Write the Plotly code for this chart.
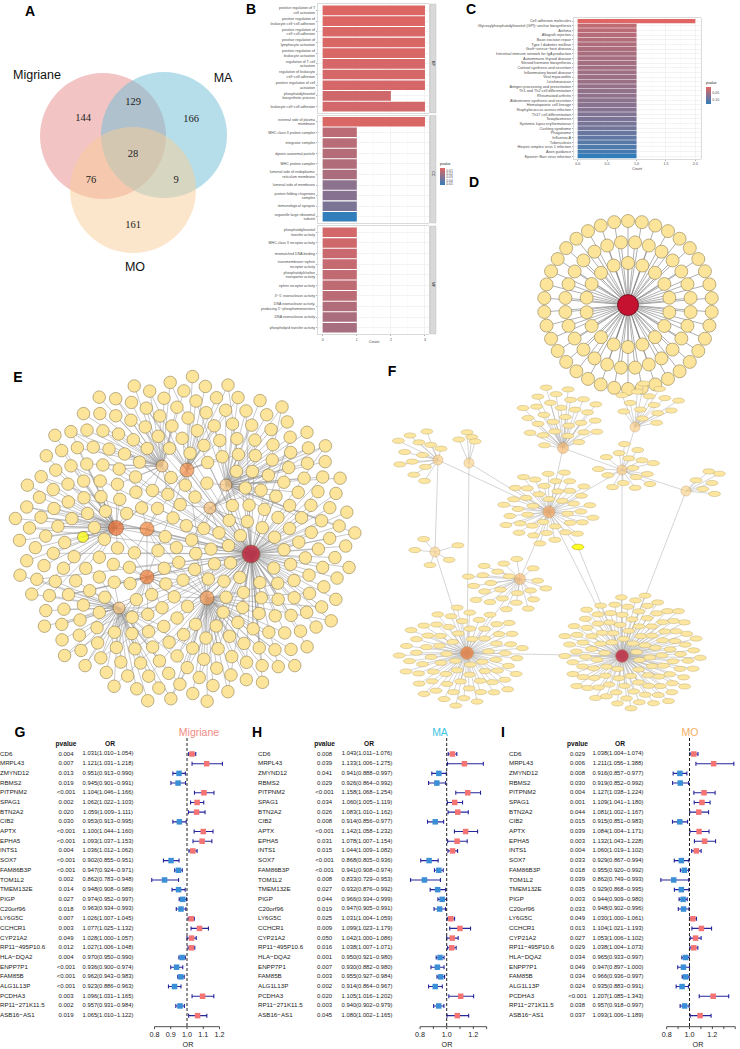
import math

import plotly.graph_objects as go

W, H = 740, 1049
FONT = "Liberation Sans, Arial, sans-serif"
SERIF = "Liberation Serif, Times New Roman, serif"

# ---------------------------------------------------------------------------
# data
# ---------------------------------------------------------------------------

# A  Venn
venn_sets = ["Migriane", "MA", "MO"]
venn_counts = [144, 129, 166, 28, 76, 9, 161]  # M, M&MA, MA, all, M&MO, MA&MO, MO

# B  GO enrichment (BP / CC / MF)
bp_terms = [
    "positive regulation of T<br>cell activation",
    "positive regulation of<br>leukocyte cell−cell adhesion",
    "positive regulation of<br>cell−cell adhesion",
    "positive regulation of<br>lymphocyte activation",
    "positive regulation of<br>leukocyte activation",
    "regulation of T cell<br>activation",
    "regulation of leukocyte<br>cell−cell adhesion",
    "positive regulation of cell<br>activation",
    "phosphatidylinositol<br>biosynthetic process",
    "leukocyte cell−cell adhesion",
]
bp_counts = [3, 3, 3, 3, 3, 3, 3, 3, 2, 3]
bp_p = [0.003, 0.003, 0.004, 0.004, 0.004, 0.005, 0.005, 0.005, 0.007, 0.006]

cc_terms = [
    "external side of plasma<br>membrane",
    "MHC class II protein complex",
    "integrator complex",
    "dynein axonemal particle",
    "MHC protein complex",
    "lumenal side of endoplasmic<br>reticulum membrane",
    "lumenal side of membrane",
    "protein folding chaperone<br>complex",
    "immunological synapse",
    "organelle large ribosomal<br>subunit",
]
cc_counts = [3, 1, 1, 1, 1, 1, 1, 1, 1, 1]
cc_p = [0.004, 0.013, 0.014, 0.015, 0.016, 0.018, 0.027, 0.029, 0.032, 0.054]

mf_terms = [
    "phosphatidylinositol<br>transfer activity",
    "MHC class II receptor activity",
    "mismatched DNA binding",
    "transmembrane−ephrin<br>receptor activity",
    "phosphatidylcholine<br>transporter activity",
    "ephrin receptor activity",
    "3'−5' exonuclease activity",
    "DNA exonuclease activity,<br>producing 5'−phosphomonoesters",
    "DNA exonuclease activity",
    "phospholipid transfer activity",
]
mf_counts = [1, 1, 1, 1, 1, 1, 1, 1, 1, 1]
mf_p = [0.006, 0.007, 0.009, 0.010, 0.011, 0.012, 0.013, 0.016, 0.018, 0.019]

# C  KEGG enrichment
kegg_terms = [
    "Cell adhesion molecules",
    "Glycosylphosphatidylinositol (GPI)−anchor biosynthesis",
    "Asthma",
    "Allograft rejection",
    "Base excision repair",
    "Type I diabetes mellitus",
    "Graft−versus−host disease",
    "Intestinal immune network for IgA production",
    "Autoimmune thyroid disease",
    "Steroid hormone biosynthesis",
    "Cortisol synthesis and secretion",
    "Inflammatory bowel disease",
    "Viral myocarditis",
    "Leishmaniasis",
    "Antigen processing and presentation",
    "Th1 and Th2 cell differentiation",
    "Rheumatoid arthritis",
    "Aldosterone synthesis and secretion",
    "Hematopoietic cell lineage",
    "Staphylococcus aureus infection",
    "Th17 cell differentiation",
    "Toxoplasmosis",
    "Systemic lupus erythematosus",
    "Cushing syndrome",
    "Phagosome",
    "Influenza A",
    "Tuberculosis",
    "Herpes simplex virus 1 infection",
    "Axon guidance",
    "Epstein−Barr virus infection",
]
kegg_counts = [2, 1, 1, 1, 1, 1, 1, 1, 1, 1, 1, 1, 1, 1, 1,
               1, 1, 1, 1, 1, 1, 1, 1, 1, 1, 1, 1, 1, 1, 1]
kegg_p = [0.013, 0.036, 0.039, 0.042, 0.044, 0.046, 0.048, 0.050, 0.052, 0.054,
          0.055, 0.057, 0.059, 0.061, 0.063, 0.066, 0.068, 0.070, 0.072, 0.075,
          0.078, 0.081, 0.084, 0.088, 0.095, 0.100, 0.106, 0.112, 0.118, 0.131]

# G/H/I  forest plots
genes = ["CD6", "MRPL43", "ZMYND12", "RBMS2", "PITPNM2", "SPAG1", "BTN2A2", "CIB2",
         "APTX", "EPHA5", "INTS1", "SOX7", "FAM86B3P", "TOM1L2", "TMEM132E", "PIGP",
         "C20orf96", "LY6G5C", "CCHCR1", "CYP21A2", "RP11−495P10.6", "HLA−DQA2",
         "ENPP7P1", "FAM85B", "ALG1L13P", "PCDHA3", "RP11−271K11.5", "ASB16−AS1"]

mig_p = ["0.004", "0.007", "0.013", "0.019", "<0.001", "0.002", "0.020", "0.030",
         "<0.001", "<0.001", "0.004", "<0.001", "<0.001", "0.002", "0.014", "0.027",
         "0.018", "0.007", "0.003", "0.049", "0.012", "0.004", "<0.001", "<0.001",
         "<0.001", "0.003", "0.002", "0.019"]
mig_or = [1.031, 1.121, 0.951, 0.945, 1.104, 1.062, 1.059, 0.953, 1.100, 1.093, 1.036, 0.902,
          0.947, 0.862, 0.948, 0.974, 0.963, 1.026, 1.077, 1.028, 1.027, 0.970, 0.936, 0.962,
          0.923, 1.096, 0.957, 1.065]
mig_lo = [1.010, 1.031, 0.913, 0.901, 1.046, 1.022, 1.009, 0.913, 1.044, 1.037, 1.012, 0.855,
          0.924, 0.783, 0.908, 0.952, 0.934, 1.007, 1.025, 1.000, 1.006, 0.950, 0.900, 0.943,
          0.886, 1.031, 0.931, 1.010]
mig_hi = [1.054, 1.218, 0.990, 0.991, 1.166, 1.103, 1.111, 0.995, 1.160, 1.153, 1.062, 0.951,
          0.971, 0.948, 0.989, 0.997, 0.993, 1.045, 1.132, 1.057, 1.048, 0.990, 0.974, 0.983,
          0.963, 1.165, 0.984, 1.122]

ma_p = ["0.008", "0.039", "0.041", "0.029", "<0.001", "0.034", "0.026", "0.008",
        "<0.001", "0.031", "0.015", "<0.001", "<0.001", "0.008", "0.027", "0.044",
        "0.019", "0.025", "0.009", "0.050", "0.016", "0.001", "0.007", "0.003",
        "0.002", "0.020", "0.003", "0.045"]
ma_or = [1.043, 1.133, 0.941, 0.926, 1.158, 1.060, 1.083, 0.914, 1.142, 1.078, 1.044, 0.868,
         0.941, 0.833, 0.932, 0.966, 0.947, 1.031, 1.099, 1.042, 1.038, 0.950, 0.930, 0.955,
         0.914, 1.105, 0.940, 1.080]
ma_lo = [1.011, 1.006, 0.888, 0.864, 1.068, 1.005, 1.010, 0.856, 1.058, 1.007, 1.009, 0.805,
         0.908, 0.729, 0.876, 0.934, 0.905, 1.004, 1.023, 1.000, 1.007, 0.921, 0.882, 0.927,
         0.864, 1.016, 0.902, 1.002]
ma_hi = [1.076, 1.275, 0.997, 0.992, 1.254, 1.119, 1.162, 0.977, 1.232, 1.154, 1.082, 0.936,
         0.974, 0.953, 0.992, 0.999, 0.991, 1.059, 1.179, 1.086, 1.071, 0.980, 0.980, 0.984,
         0.967, 1.202, 0.979, 1.165]

mo_p = ["0.029", "0.006", "0.008", "0.030", "0.004", "0.001", "0.044", "0.015",
        "0.039", "0.003", "0.004", "0.033", "0.018", "0.039", "0.035", "0.003",
        "0.033", "0.049", "0.013", "0.027", "0.029", "0.034", "0.049", "0.034",
        "0.024", "<0.001", "0.038", "0.037"]
mo_or = [1.038, 1.211, 0.916, 0.919, 1.127, 1.109, 1.081, 0.915, 1.084, 1.132, 1.060, 0.929,
         0.955, 0.862, 0.929, 0.944, 0.948, 1.030, 1.104, 1.053, 1.038, 0.965, 0.947, 0.966,
         0.935, 1.207, 0.957, 1.093]
mo_lo = [1.004, 1.056, 0.857, 0.852, 1.038, 1.041, 1.002, 0.851, 1.004, 1.043, 1.019, 0.867,
         0.920, 0.749, 0.868, 0.909, 0.902, 1.000, 1.021, 1.006, 1.004, 0.933, 0.897, 0.936,
         0.883, 1.085, 0.918, 1.006]
mo_hi = [1.074, 1.388, 0.977, 0.992, 1.224, 1.180, 1.167, 0.983, 1.171, 1.228, 1.102, 0.994,
         0.992, 0.993, 0.995, 0.980, 0.996, 1.061, 1.193, 1.102, 1.073, 0.997, 1.000, 0.997,
         0.991, 1.343, 0.997, 1.189]

# ---------------------------------------------------------------------------
# network layouts (pixel positions of hubs; leaves are laid out around them)
# ---------------------------------------------------------------------------
D_HUB = (628, 305)
D_RINGS = [(84, 38), (63, 28), (42, 18)]

E_HUBS = [  # x, y, size, colour
    (251, 554, 18, "#C4102C"),
    (116, 528, 15, "#EE6A2C"),
    (147, 529, 14, "#F4873E"),
    (147, 577, 14, "#F07A36"),
    (187, 470, 14, "#F58F48"),
    (207, 598, 14, "#F59A52"),
    (162, 466, 12, "#FAC77E"),
    (226, 485, 12, "#FAC77E"),
    (210, 508, 12, "#F9C27A"),
    (119, 608, 12, "#FAC77E"),
]
E_YELLOW = (83, 537, 11, "#FFFF00")

F_CLUSTERS = [  # hub x, y, size, colour, leaves, cloud cx, cy, rx, ry
    (438, 460, 10, "#FBD08A", 14, 418, 455, 24, 30),
    (469, 463, 10, "#FBD690", 4, 466, 437, 16, 6),
    (563, 448, 11, "#F9BC74", 30, 560, 417, 42, 32),
    (635, 427, 10, "#FBCF88", 16, 648, 405, 34, 22),
    (622, 470, 10, "#FBCF88", 18, 628, 468, 30, 26),
    (686, 491, 10, "#FBD690", 6, 708, 483, 14, 18),
    (549, 512, 12, "#F7A75E", 45, 548, 508, 48, 38),
    (435, 552, 10, "#FBD690", 8, 437, 552, 30, 15),
    (520, 579, 11, "#F9BE78", 26, 508, 585, 42, 28),
    (467, 653, 13, "#F07A35", 75, 462, 656, 64, 50),
    (622, 656, 13, "#C41230", 115, 632, 652, 70, 58),
]
F_LINKS = [(0, 6), (1, 6), (1, 9), (2, 6), (2, 4), (3, 4), (4, 6), (4, 5), (5, 10),
           (6, 8), (6, 10), (7, 9), (8, 9), (9, 10), (4, 10), (0, 7)]
F_YELLOW = (578, 547)

LEAF = "#FCE59A"
LEAF_LINE = "#8F7E4F"
GOLDEN = math.pi * (3 - math.sqrt(5))


def fx(px):
    return px / W


def fy(py):
    return 1 - py / H


def sunflower(n, cx, cy, rx, ry):
    pts = []
    for k in range(n):
        f = math.sqrt((k + 0.5) / n)
        a = k * GOLDEN
        pts.append((cx + rx * f * math.cos(a), cy + ry * f * math.sin(a)))
    return pts


def add_edge(xs, ys, a, b):
    xs += [a[0], b[0], None]
    ys += [a[1], b[1], None]


fig = go.Figure()
shapes = []
annotations = []


def text_trace(xs, ys, texts, size, color="#000000", family=FONT, pos="middle center", xaxis="x"):
    fig.add_trace(go.Scatter(
        x=xs, y=ys, text=texts, mode="text", textposition=pos,
        textfont=dict(size=size, color=color, family=family),
        xaxis=xaxis, yaxis="y", hoverinfo="skip", showlegend=False,
    ))


# ---------------------------------------------------------------------------
# A  Venn
# ---------------------------------------------------------------------------
venn_circles = [(103, 136, "#E68A89"), (164, 135, "#6BBDD5"), (133, 190, "#F9CD97")]
for cx, cy, col in venn_circles:
    shapes.append(dict(type="circle", xref="x", yref="y", x0=cx - 63, x1=cx + 63,
                       y0=cy - 63, y1=cy + 63, fillcolor=col, opacity=0.5,
                       line=dict(width=0), layer="below"))
venn_num_xy = [(83, 118), (133, 102), (191, 119), (133, 154), (91, 180), (176, 180), (133, 225)]
text_trace([p[0] for p in venn_num_xy], [p[1] for p in venn_num_xy],
           [str(v) for v in venn_counts], 10.5, "#222222", SERIF)
text_trace([37, 223, 135], [76, 79, 268], venn_sets, 12.5, "#111111")

# ---------------------------------------------------------------------------
# B  GO bars, three facets
# ---------------------------------------------------------------------------
RED, BLUE = "#E06663", "#327EBA"
GG_GRID = "#EBEBEB"
GG_TXT = "#4D4D4D"
b_facets = [
    ("BP", bp_terms, bp_counts, bp_p, (4, 113)),
    ("CC", cc_terms, cc_counts, cc_p, (115.5, 223)),
    ("MF", mf_terms, mf_counts, mf_p, (226, 334)),
]
axes = {}
for i, (lab, terms, counts, pv, (t, b)) in enumerate(b_facets):
    n = 5 + i
    fig.add_trace(go.Bar(
        x=counts, y=terms, orientation="h",
        marker=dict(color=[-p for p in pv], coloraxis="coloraxis", line=dict(width=0)),
        xaxis=f"x{n}", yaxis=f"y{n}", showlegend=False,
    ))
    last = i == 2
    axes[f"xaxis{n}"] = dict(
        domain=[fx(318), fx(428.7)], range=[-0.138, 3.109], anchor=f"y{n}",
        dtick=1, tick0=0, showgrid=True, gridcolor=GG_GRID, gridwidth=0.6,
        minor=dict(dtick=0.5, showgrid=True, gridcolor="#F5F5F5", gridwidth=0.4),
        zeroline=False, showline=True, mirror=True, linecolor="#CCCCCC", linewidth=0.7,
        ticks="outside" if last else "", ticklen=1.5, tickwidth=0.4, tickcolor="#333333",
        showticklabels=last, tickfont=dict(size=3.6, color=GG_TXT, family=FONT),
    )
    axes[f"yaxis{n}"] = dict(
        domain=[fy(b), fy(t)], anchor=f"x{n}", type="category",
        categoryorder="array", categoryarray=terms, range=[len(terms) - 0.4, -0.6],
        tickmode="array", tickvals=terms, ticktext=terms,
        showgrid=True, gridcolor=GG_GRID, gridwidth=0.6, zeroline=False,
        showline=True, mirror=True, linecolor="#CCCCCC", linewidth=0.7,
        ticks="outside", ticklen=1.5, tickwidth=0.4, tickcolor="#333333",
        tickfont=dict(size=3.6, color=GG_TXT, family=FONT),
    )
    shapes.append(dict(type="rect", xref="x", yref="y", x0=430, x1=436, y0=t, y1=b,
                       fillcolor="#D9D9D9", line=dict(color="#B5B5B5", width=0.4)))
    annotations.append(dict(x=fx(433), y=fy((t + b) / 2), xref="paper", yref="paper",
                            text=lab, showarrow=False, textangle=90,
                            font=dict(size=3.6, color="#1A1A1A", family=FONT)))
text_trace([374], [342], ["Count"], 4, GG_TXT)

# ---------------------------------------------------------------------------
# C  KEGG bars
# ---------------------------------------------------------------------------
fig.add_trace(go.Bar(
    x=kegg_counts, y=kegg_terms, orientation="h",
    marker=dict(color=[-p for p in kegg_p], coloraxis="coloraxis2", line=dict(width=0)),
    xaxis="x8", yaxis="y8", showlegend=False,
))
axes["xaxis8"] = dict(
    domain=[fx(574), fx(700.7)], range=[-0.063, 2.092], anchor="y8",
    tickvals=[0, 0.5, 1.0, 1.5, 2.0], ticktext=["0.0", "0.5", "1.0", "1.5", "2.0"],
    showgrid=True, gridcolor=GG_GRID, gridwidth=0.6,
    minor=dict(tickvals=[0.25, 0.75, 1.25, 1.75], showgrid=True, gridcolor="#F5F5F5", gridwidth=0.4),
    zeroline=False, showline=True, mirror=True, linecolor="#CCCCCC", linewidth=0.7,
    ticks="outside", ticklen=1.2, tickwidth=0.4, tickcolor="#333333",
    tickfont=dict(size=3.6, color=GG_TXT, family=FONT),
)
axes["yaxis8"] = dict(
    domain=[fy(159), fy(18.3)], anchor="x8", type="category",
    categoryorder="array", categoryarray=kegg_terms, range=[len(kegg_terms) - 0.4, -0.6],
    tickmode="array", tickvals=kegg_terms, ticktext=kegg_terms,
    showgrid=True, gridcolor=GG_GRID, gridwidth=0.6, zeroline=False,
    showline=True, mirror=True, linecolor="#CCCCCC", linewidth=0.7,
    ticks="outside", ticklen=1.5, tickwidth=0.4, tickcolor="#333333",
    tickfont=dict(size=3.8, color=GG_TXT, family=FONT),
)
text_trace([637], [169], ["Count"], 3.8, GG_TXT)

# ---------------------------------------------------------------------------
# D  star network
# ---------------------------------------------------------------------------
dx, dy, d_nodes = [], [], []
for ri, (r, n) in enumerate(D_RINGS):
    ph = math.pi / n * (ri % 2)
    for k in range(n):
        a = 2 * math.pi * k / n + ph - math.pi / 2
        p = (D_HUB[0] + r * math.cos(a), D_HUB[1] + r * math.sin(a))
        d_nodes.append(p)
        add_edge(dx, dy, D_HUB, p)
fig.add_trace(go.Scatter(x=dx, y=dy, mode="lines", line=dict(color="#7A7A7A", width=0.6),
                         hoverinfo="skip", showlegend=False))
fig.add_trace(go.Scatter(x=[p[0] for p in d_nodes], y=[p[1] for p in d_nodes], mode="markers",
                         marker=dict(size=13, color=LEAF, line=dict(color=LEAF_LINE, width=0.6)),
                         hoverinfo="skip", showlegend=False))
fig.add_trace(go.Scatter(x=[D_HUB[0]], y=[D_HUB[1]], mode="markers",
                         marker=dict(size=21, color="#C41230", line=dict(color="#5A0010", width=0.7)),
                         hoverinfo="skip", showlegend=False))

# ---------------------------------------------------------------------------
# E  multi-hub network
# ---------------------------------------------------------------------------
all_e = E_HUBS + [E_YELLOW]
e_leaves = [p for p in sunflower(330, 185, 540, 172, 165)
            if all(math.dist(p, h[:2]) > h[2] / 2 + 8 for h in all_e)]
ex, ey = [], []
for k, p in enumerate(e_leaves):
    order = sorted(range(len(E_HUBS)), key=lambda j: math.dist(p, E_HUBS[j][:2]))
    add_edge(ex, ey, p, E_HUBS[order[0]][:2])
    if k % 4 == 0 and order[0] != 0:
        add_edge(ex, ey, p, E_HUBS[0][:2])
    if k % 5 == 0:
        add_edge(ex, ey, p, E_HUBS[order[1]][:2])
for i in range(6):
    for j in range(i + 1, 6):
        add_edge(ex, ey, E_HUBS[i][:2], E_HUBS[j][:2])
add_edge(ex, ey, E_YELLOW[:2], E_HUBS[1][:2])
fig.add_trace(go.Scatter(x=ex, y=ey, mode="lines", line=dict(color="#6E6E6E", width=0.5),
                         opacity=0.75, hoverinfo="skip", showlegend=False))
fig.add_trace(go.Scatter(x=[p[0] for p in e_leaves], y=[p[1] for p in e_leaves], mode="markers",
                         marker=dict(size=12.5, color=LEAF, line=dict(color=LEAF_LINE, width=0.6)),
                         hoverinfo="skip", showlegend=False))
fig.add_trace(go.Scatter(x=[h[0] for h in all_e], y=[h[1] for h in all_e], mode="markers",
                         marker=dict(size=[h[2] for h in all_e], color=[h[3] for h in all_e],
                                     line=dict(color="#6A4A20", width=0.7)),
                         hoverinfo="skip", showlegend=False))

# ---------------------------------------------------------------------------
# F  clustered network (ellipse leaves)
# ---------------------------------------------------------------------------
fxs, fys = [], []
f_leaf_pts = []
for hx, hy, hs, hc, n, cx, cy, rx, ry in F_CLUSTERS:
    for p in sunflower(n, cx, cy, rx, ry):
        if math.dist(p, (hx, hy)) < hs / 2 + 5:
            continue
        f_leaf_pts.append(p)
        add_edge(fxs, fys, p, (hx, hy))
for i, j in F_LINKS:
    add_edge(fxs, fys, F_CLUSTERS[i][:2], F_CLUSTERS[j][:2])
add_edge(fxs, fys, F_YELLOW, F_CLUSTERS[6][:2])
add_edge(fxs, fys, F_YELLOW, F_CLUSTERS[10][:2])
fig.add_trace(go.Scatter(x=fxs, y=fys, mode="lines", line=dict(color="#ABABAB", width=0.5),
                         hoverinfo="skip", showlegend=False))
for x, y in f_leaf_pts:
    shapes.append(dict(type="circle", xref="x", yref="y", x0=x - 6, x1=x + 6, y0=y - 2.6, y1=y + 2.6,
                       fillcolor="#FDE7A0", line=dict(color="#C2AC6C", width=0.5), layer="above"))
shapes.append(dict(type="circle", xref="x", yref="y", x0=F_YELLOW[0] - 6, x1=F_YELLOW[0] + 6,
                   y0=F_YELLOW[1] - 2.8, y1=F_YELLOW[1] + 2.8, fillcolor="#FFFF22",
                   line=dict(color="#A89A00", width=0.5), layer="above"))
fig.add_trace(go.Scatter(x=[c[0] for c in F_CLUSTERS], y=[c[1] for c in F_CLUSTERS], mode="markers",
                         marker=dict(size=[c[2] for c in F_CLUSTERS], color=[c[3] for c in F_CLUSTERS],
                                     line=dict(color="#B08A50", width=0.5)),
                         hoverinfo="skip", showlegend=False))

# ---------------------------------------------------------------------------
# G / H / I  forest plots
# ---------------------------------------------------------------------------
ROW0, ROW_STEP, AXIS_Y = 754.0, 9.69, 1026.7
row_y = [ROW0 + ROW_STEP * i for i in range(len(genes))]

forest_panels = [
    dict(letter="G", letter_x=20, title="Migriane", title_x=199, title_color="#F28B82",
         p=mig_p, orv=mig_or, lo=mig_lo, hi=mig_hi, gene_x=0, p_x=66, or_x=108, or_title_x=188,
         one_px=187.0, unit_px=162.5, dom=(140, 240),
         ticks=[0.8, 0.9, 1.0, 1.1, 1.2], labels=["0.8", "0.9", "1.0", "1.1", "1.2"]),
    dict(letter="H", letter_x=257, title="MA", title_x=440, title_color="#3EC3E2",
         p=ma_p, orv=ma_or, lo=ma_lo, hi=ma_hi, gene_x=258, p_x=324.6, or_x=367, or_title_x=447,
         one_px=446.7, unit_px=133.2, dom=(400, 500),
         ticks=[0.8, 0.9, 1.0, 1.1, 1.2, 1.3], labels=["0.8", "", "1.0", "", "1.2", ""]),
    dict(letter="I", letter_x=503, title="MO", title_x=690, title_color="#F5AE63",
         p=mo_p, orv=mo_or, lo=mo_lo, hi=mo_hi, gene_x=509, p_x=577.5, or_x=618, or_title_x=698,
         one_px=689.5, unit_px=114.3, dom=(650, 740),
         ticks=[0.8, 0.9, 1.0, 1.1, 1.2, 1.3, 1.4], labels=["0.8", "", "1.0", "", "1.2", "", "1.4"]),
]

for k, fp in enumerate(forest_panels):
    n = 2 + k
    xa = f"x{n}"
    text_trace([fp["gene_x"]] * len(genes), row_y, genes, 6.2, "#1A1A1A", pos="middle right")
    text_trace([fp["p_x"]] * len(genes), row_y, fp["p"], 6.0, "#1A1A1A")
    or_txt = [f"{o:.3f}({l:.3f}−{h:.3f})" for o, l, h in zip(fp["orv"], fp["lo"], fp["hi"])]
    text_trace([fp["or_x"]] * len(genes), row_y, or_txt, 5.8, "#1A1A1A")
    text_trace([fp["p_x"], fp["or_x"] + 2], [744, 744], ["<b>pvalue</b>", "<b>OR</b>"], 6.6, "#111111")
    text_trace([fp["title_x"]], [733], [fp["title"]], 10.5, fp["title_color"])
    text_trace([fp["or_title_x"]], [1045.5], ["OR"], 7.2, "#1A1A1A")

    colors = ["#F47373" if o > 1 else "#3A8FD6" for o in fp["orv"]]
    fig.add_trace(go.Scatter(
        x=fp["orv"], y=row_y, mode="markers",
        marker=dict(symbol="square", size=5.5, color=colors, line=dict(width=0)),
        error_x=dict(type="data", symmetric=False,
                     array=[h - o for o, h in zip(fp["orv"], fp["hi"])],
                     arrayminus=[o - l for o, l in zip(fp["orv"], fp["lo"])],
                     color="#25259C", thickness=1.1, width=2),
        xaxis=xa, yaxis="y", hoverinfo="skip", showlegend=False,
    ))
    lo_px, hi_px = fp["dom"]
    axes[f"xaxis{n}"] = dict(
        domain=[fx(lo_px), fx(hi_px)],
        range=[1 + (lo_px - fp["one_px"]) / fp["unit_px"], 1 + (hi_px - fp["one_px"]) / fp["unit_px"]],
        anchor="free", position=fy(AXIS_Y + 2.0), showgrid=False, zeroline=False, showline=False,
        tickvals=fp["ticks"], ticktext=fp["labels"], ticks="",
        tickfont=dict(size=7.2, color="#1A1A1A", family=FONT),
    )
    shapes.append(dict(type="line", xref=xa, yref="y", x0=fp["ticks"][0], x1=fp["ticks"][-1],
                       y0=AXIS_Y, y1=AXIS_Y, line=dict(color="#222222", width=0.8)))
    for tv in fp["ticks"]:
        shapes.append(dict(type="line", xref=xa, yref="y", x0=tv, x1=tv, y0=AXIS_Y, y1=AXIS_Y + 2.4,
                           line=dict(color="#222222", width=0.8)))
    shapes.append(dict(type="line", xref=xa, yref="y", x0=1, x1=1, y0=738, y1=AXIS_Y,
                       line=dict(color="#222222", width=1, dash="3px,2px")))

# panel letters
text_trace([30, 251, 471, 474, 18, 392, 20, 257, 503],
           [12, 10, 10, 183, 378, 372, 733, 733, 733],
           [f"<b>{c}</b>" for c in "ABCDEFGHI"], 14, "#000000")

fig.update_layout(
    width=W, height=H, template="none",
    margin=dict(l=0, r=0, t=0, b=0),
    paper_bgcolor="white", plot_bgcolor="rgba(0,0,0,0)",
    showlegend=False, bargap=0.1,
    xaxis=dict(domain=[0, 1], range=[0, W], visible=False, fixedrange=True),
    yaxis=dict(domain=[0, 1], range=[H, 0], visible=False, fixedrange=True),
    coloraxis=dict(
        colorscale=[[0, BLUE], [1, RED]], cmin=-0.054, cmax=-0.002,
        colorbar=dict(x=fx(440), xanchor="left", y=fy(172), yanchor="middle",
                      len=26 / H, thickness=5, xpad=0, ypad=0, outlinewidth=0, ticks="",
                      tickvals=[-0.01, -0.02, -0.03, -0.04, -0.05],
                      ticktext=["0.01", "0.02", "0.03", "0.04", "0.05"],
                      tickfont=dict(size=3.4, color=GG_TXT, family=FONT),
                      title=dict(text="pvalue", side="top", font=dict(size=3.6, color="#222", family=FONT))),
    ),
    coloraxis2=dict(
        colorscale=[[0, BLUE], [1, RED]], cmin=-0.131, cmax=-0.013,
        colorbar=dict(x=fx(706), xanchor="left", y=fy(91), yanchor="middle",
                      len=26 / H, thickness=5, xpad=0, ypad=0, outlinewidth=0, ticks="",
                      tickvals=[-0.05, -0.10], ticktext=["0.05", "0.10"],
                      tickfont=dict(size=3.6, color=GG_TXT, family=FONT),
                      title=dict(text="pvalue", side="top", font=dict(size=3.6, color="#222", family=FONT))),
    ),
    shapes=shapes,
    annotations=annotations,
    **axes,
)

# the page body has a default 8px margin; drop it so the figure sits at the window origin
fig.write_html(
    "out.html",
    config={"displayModeBar": False, "staticPlot": True},
    post_script="document.body.style.margin='0';document.body.style.overflow='hidden';",
)
